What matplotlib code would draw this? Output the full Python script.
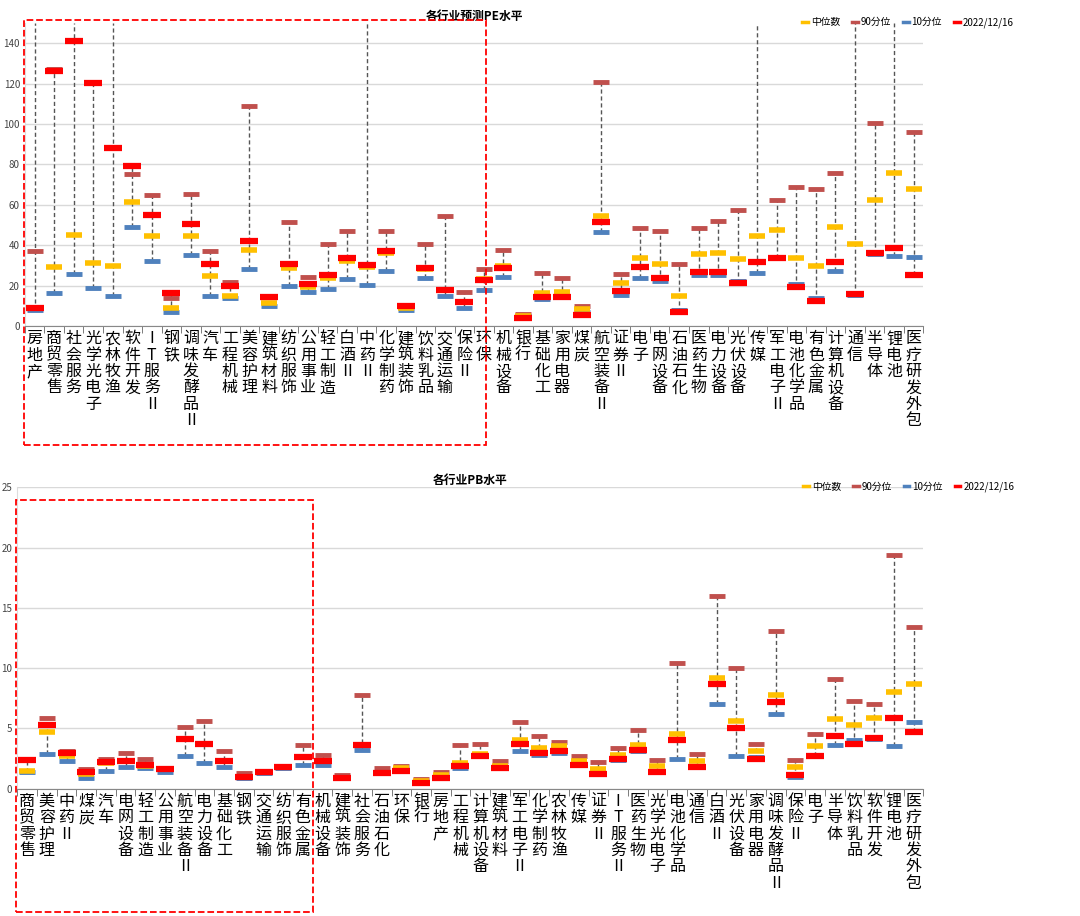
import numpy as np
import matplotlib
matplotlib.use("Agg")
import matplotlib.pyplot as plt
from matplotlib import font_manager
from matplotlib.lines import Line2D
from matplotlib.patches import Rectangle

# find an installed CJK font file and register it
cjk = None
for f in font_manager.findSystemFonts():
    if "CJK" in f and ("Regular" in f or "SC" in f):
        try:
            font_manager.fontManager.addfont(f)
            cjk = font_manager.FontProperties(fname=f).get_name()
            break
        except Exception:
            pass
plt.rcParams["font.family"] = [n for n in [cjk, "Noto Sans CJK SC", "Noto Sans CJK JP", "DejaVu Sans"] if n]

# ---------- PE data ----------
pe_names = ["房地产", "商贸零售", "社会服务", "光学光电子", "农林牧渔", "软件开发", "IT服务Ⅱ", "钢铁",
            "调味发酵品Ⅱ", "汽车", "工程机械", "美容护理", "建筑材料", "纺织服饰", "公用事业", "轻工制造",
            "白酒Ⅱ", "中药Ⅱ", "化学制药", "建筑装饰", "饮料乳品", "交通运输",
            "保险Ⅱ", "环保", "机械设备", "银行", "基础化工", "家用电器", "煤炭", "航空装备Ⅱ", "证券Ⅱ",
            "电子", "电网设备", "石油石化", "医药生物", "电力设备", "光伏设备", "传媒", "军工电子Ⅱ",
            "电池化学品", "有色金属", "计算机设备", "通信", "半导体", "锂电池", "医疗研发外包"]
pe_cur = [9, 126, 141, 120.5, 88, 79, 55, 16.5, 50.5, 30.5, 20, 42, 14.5, 30.5, 21, 25.5, 33.5, 30, 37, 10, 28.5, 18,
          12, 23, 28.5, 4, 14.5, 14.5, 5.5, 51.5, 17.5, 29, 24, 7, 27, 27, 21.5, 31.5, 33.5, 19.5, 12.5, 31.5, 16, 36,
          38.5, 25.5]
pe_med = [9, 29, 45, 31, 29.5, 61.5, 44.5, 9, 44.5, 25, 15, 37.5, 11.5, 28.5, 19.5, 24, 32, 29, 36, 9, 28, 18,
          12, 23.5, 29.5, 5, 16.5, 17, 8.5, 54.5, 21.5, 33.5, 30.5, 15, 35.5, 36, 33, 44.5, 47.5, 33.5, 29.5, 49, 40.5,
          62.5, 75.5, 68]
pe_p10 = [8, 16.5, 26, 19, 15, 49, 32, 7, 35, 15, 14, 28, 10, 20, 17, 18.5, 23.5, 20.5, 27.5, 8, 24, 15,
          9, 18, 24.5, 5, 13.5, 14.5, 7, 46.5, 15.5, 24, 22.5, 8, 25.5, 25.5, 22.5, 26.5, 34, 21, 14, 27.5, 15.5, 35.5,
          34.5, 34]
# 200 = above the visible range
pe_p90 = [37, 127, 200, 121, 200, 75, 65, 14, 65.5, 37, 22, 109, 14.5, 51.5, 24.5, 40.5, 47, 200, 47, 10.5, 40.5,
          54.5, 17, 28, 37.5, 6, 26.5, 24, 10, 121, 26, 48.5, 47, 30.5, 48.5, 52, 57.5, 200, 62.5, 69, 68, 75.5, 200,
          100.5, 200, 96]
pe_over = ["房地产", "中药Ⅱ", "传媒", "通信", "锂电池"]

# ---------- PB data ----------
pb_names = ["商贸零售", "美容护理", "中药Ⅱ", "煤炭", "汽车", "电网设备", "轻工制造", "公用事业", "航空装备Ⅱ",
            "电力设备", "基础化工", "钢铁", "交通运输", "纺织服饰",
            "有色金属", "机械设备", "建筑装饰", "社会服务", "石油石化", "环保", "银行", "房地产", "工程机械",
            "计算机设备", "建筑材料", "军工电子Ⅱ", "化学制药", "农林牧渔", "传媒", "证券Ⅱ", "IT服务Ⅱ", "医药生物",
            "光学光电子", "电池化学品", "通信", "白酒Ⅱ", "光伏设备", "家用电器", "调味发酵品Ⅱ", "保险Ⅱ", "电子",
            "半导体", "饮料乳品", "软件开发", "锂电池", "医疗研发外包"]
pb_cur = [2.4, 5.3, 3.0, 1.4, 2.2, 2.3, 2.0, 1.6, 4.1, 3.7, 2.3, 1.0, 1.4, 1.8,
          2.6, 2.3, 0.9, 3.6, 1.3, 1.5, 0.5, 0.9, 1.9, 2.7, 1.7, 3.7, 3.0, 3.1, 2.0, 1.2, 2.5, 3.2, 1.4, 4.0, 1.8,
          8.7, 5.0, 2.5, 7.2, 1.1, 2.7, 4.4, 3.7, 4.2, 5.9, 4.7]
pb_med = [1.5, 4.7, 2.7, 1.2, 2.1, 2.3, 1.9, 1.6, 4.1, 3.7, 2.3, 1.0, 1.4, 1.8,
          2.6, 2.3, 0.9, 3.6, 1.3, 1.7, 0.6, 1.1, 2.1, 2.9, 1.9, 4.0, 3.4, 3.5, 2.3, 1.6, 2.8, 3.6, 1.9, 4.5, 2.3,
          9.2, 5.6, 3.1, 7.8, 1.8, 3.5, 5.8, 5.3, 5.9, 8.0, 8.7]
pb_p10 = [1.4, 2.9, 2.3, 0.9, 1.5, 1.8, 1.7, 1.4, 2.7, 2.1, 1.8, 0.9, 1.3, 1.7,
          2.0, 2.0, 0.9, 3.2, 1.3, 1.5, 0.5, 0.9, 1.7, 2.7, 1.7, 3.1, 2.8, 3.0, 2.0, 1.3, 2.4, 3.1, 1.5, 2.5, 1.8,
          7.0, 2.7, 2.6, 6.2, 1.0, 2.7, 3.6, 4.0, 4.1, 3.5, 5.5]
pb_p90 = [2.5, 5.9, 3.1, 1.6, 2.5, 3.0, 2.5, 1.7, 5.1, 5.6, 3.1, 1.3, 1.5, 1.9,
          3.6, 2.8, 1.1, 7.8, 1.7, 1.9, 0.8, 1.4, 3.6, 3.7, 2.3, 5.5, 4.4, 3.9, 2.7, 2.2, 3.4, 4.9, 2.4, 10.4, 2.9,
          16.0, 10.0, 3.7, 13.1, 2.4, 4.5, 9.1, 7.3, 7.0, 19.4, 13.4]

C_MED, C_P90, C_P10, C_CUR = "#FFC000", "#C0504D", "#4F81BD", "#FF0000"


def vert(s):
    return "\n".join(s)


def draw(ax, names, cur, med, p10, p90, ymax, step, title, over=()):
    x = np.arange(len(names))
    for i in range(len(names)):
        lo = min(p10[i], cur[i], med[i])
        hi = ymax if (names[i] in over or p90[i] > ymax) else max(p90[i], cur[i], med[i])
        ax.vlines(x[i], lo, hi, colors="#555555", linestyles=(0, (3, 2)), lw=1, zorder=1)
    ax.plot(x, p10, ls="none", marker="_", ms=11, mew=3.5, color=C_P10, zorder=2)
    ax.plot(x, p90, ls="none", marker="_", ms=11, mew=3.5, color=C_P90, zorder=2)
    ax.plot(x, med, ls="none", marker="_", ms=12, mew=4, color=C_MED, zorder=3)
    ax.plot(x, cur, ls="none", marker="_", ms=13, mew=4.5, color=C_CUR, zorder=4)
    ax.set_xlim(-0.5, len(names) - 0.5)
    ax.set_ylim(0, ymax)
    ax.set_yticks(np.arange(0, ymax + 0.01, step))
    ax.yaxis.grid(True, color="#d9d9d9", lw=1)
    ax.set_axisbelow(True)
    ax.set_xticks(x)
    ax.set_xticklabels([vert(n) for n in names], fontsize=11.5, va="top", linespacing=0.95)
    ax.tick_params(axis="x", length=0, pad=3)
    ax.set_xticks(np.arange(-0.5, len(names), 1), minor=True)
    ax.tick_params(axis="x", which="minor", length=5, color="#666666")
    ax.tick_params(axis="y", length=0, labelsize=7, labelcolor="#444444")
    for s in ["top", "right"]:
        ax.spines[s].set_visible(False)
    ax.spines["bottom"].set_color("#888888")
    ax.spines["left"].set_color("#dddddd")
    ax.set_title(title, fontsize=8.5, fontweight="bold", pad=2)
    handles = [Line2D([], [], color=c, lw=2.5) for c in (C_MED, C_P90, C_P10, C_CUR)]
    ax.legend(handles, ["中位数", "90分位", "10分位", "2022/12/16"], ncol=4, frameon=False, fontsize=7,
              loc="lower right", bbox_to_anchor=(1.11, 0.955), handlelength=0.6, columnspacing=1.2,
              handletextpad=0.3)


fig = plt.figure(figsize=(10.8, 9.16), dpi=100)
ax1 = fig.add_axes([0.023, 0.644, 0.832, 0.331])
draw(ax1, pe_names, pe_cur, pe_med, pe_p10, pe_p90, 150, 20, "各行业预测PE水平", pe_over)
ax2 = fig.add_axes([0.016, 0.139, 0.839, 0.329])
draw(ax2, pb_names, pb_cur, pb_med, pb_p10, pb_p90, 25, 5, "各行业PB水平")

# red dashed highlight boxes
fig.add_artist(Rectangle((0.022, 0.514), 0.428, 0.464, transform=fig.transFigure, fill=False,
                         ec="#FF0000", ls="--", lw=1.3))
fig.add_artist(Rectangle((0.015, 0.004), 0.275, 0.450, transform=fig.transFigure, fill=False,
                         ec="#FF0000", ls="--", lw=1.3))

fig.savefig("out.png", dpi=100)
